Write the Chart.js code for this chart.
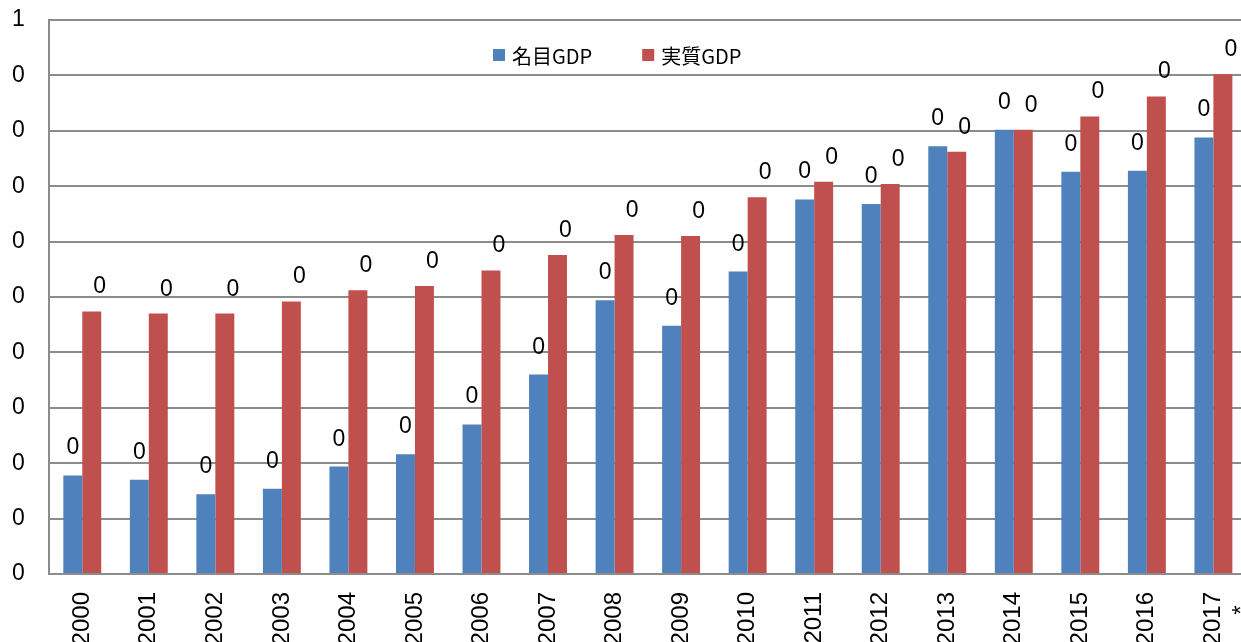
<!DOCTYPE html>
<html>
<head>
<meta charset="utf-8">
<script src="https://cdn.jsdelivr.net/npm/chart.js@4.4.0/dist/chart.umd.min.js"></script>
<style>
    html, body { margin: 0; padding: 0; background: #fff; overflow: hidden; }
    #wrap { width: 1289px; height: 642px; }
</style>
</head>
<body>
<div id="wrap"><canvas id="gdp-chart" width="1289" height="642"></canvas></div>
<script>
// Chart data
const years = ['2000', '2001', '2002', '2003', '2004', '2005', '2006', '2007', '2008',
               '2009', '2010', '2011', '2012', '2013', '2014', '2015', '2016', ['2017', '*  ']];
const nominalGdp = [0.089, 0.085, 0.072, 0.077, 0.097, 0.108, 0.135, 0.180, 0.247,
                    0.224, 0.273, 0.338, 0.334, 0.386, 0.401, 0.363, 0.364, 0.394];
const realGdp = [0.237, 0.235, 0.235, 0.246, 0.256, 0.260, 0.274, 0.288, 0.306,
                 0.305, 0.340, 0.354, 0.352, 0.381, 0.401, 0.413, 0.431, 0.451];
const seriesNames = ['名目GDP', '実質GDP'];
const yTicks = { min: 0, max: 0.5, step: 0.05 };

const fontFamily = '"Liberation Sans", Arial, sans-serif';

// value labels above each bar
const valueLabels = {
    id: 'valueLabels',
    afterDatasetsDraw(chart) {
        const ctx = chart.ctx;
        ctx.save();
        ctx.font = '23px ' + fontFamily;
        ctx.fillStyle = '#000';
        ctx.textAlign = 'center';
        ctx.textBaseline = 'alphabetic';
        chart.data.datasets.forEach((ds, i) => {
            const meta = chart.getDatasetMeta(i);
            meta.data.forEach((bar, j) => {
                const shift = i === 1 ? 8 : 0;
                const lift = i === 1 ? 18 : 21;
                ctx.fillText(String(Math.round(ds.data[j])), bar.x + shift, bar.y - lift);
            });
        });
        ctx.restore();
    }
};

// legend drawn inside the plot area
const innerLegend = {
    id: 'innerLegend',
    afterDraw(chart) {
        const ctx = chart.ctx;
        ctx.save();
        ctx.font = '20px "Noto Sans CJK JP", sans-serif';
        ctx.textBaseline = 'middle';
        ctx.textAlign = 'left';
        let x = 493;
        const y = 55;
        chart.data.datasets.forEach(ds => {
            ctx.fillStyle = ds.backgroundColor;
            ctx.fillRect(x, y - 6, 12, 12);
            ctx.fillStyle = '#000';
            ctx.fillText(ds.label, x + 19, y + 1);
            x += 19 + ctx.measureText(ds.label).width + 50;
        });
        ctx.restore();
    }
};

const ctx = document.getElementById('gdp-chart').getContext('2d');
new Chart(ctx, {
    type: 'bar',
    data: {
        labels: years,
        datasets: [{
            label: seriesNames[0],
            data: nominalGdp,
            backgroundColor: '#4F81BD',
            borderWidth: 0,
            barPercentage: 1,
            categoryPercentage: 0.57
        }, {
            label: seriesNames[1],
            data: realGdp,
            backgroundColor: '#C0504D',
            borderWidth: 0,
            barPercentage: 1,
            categoryPercentage: 0.57
        }]
    },
    options: {
        responsive: false,
        animation: false,
        devicePixelRatio: 1,
        layout: { padding: { top: 20, left: 12, right: 0, bottom: 0 } },
        plugins: {
            legend: { display: false },
            tooltip: { enabled: false }
        },
        scales: {
            x: {
                grid: { display: false, drawTicks: false },
                border: { display: true, color: '#8c8c8c', width: 2 },
                ticks: {
                    minRotation: 90,
                    maxRotation: 90,
                    padding: 18,
                    color: '#000',
                    font: { family: fontFamily, size: 24 }
                },
                afterFit: function(scale) { scale.height = 68; }
            },
            y: {
                min: yTicks.min,
                max: yTicks.max,
                grid: { color: '#8c8c8c', lineWidth: 2, drawTicks: false },
                border: { display: true, color: '#8c8c8c', width: 2 },
                ticks: {
                    stepSize: yTicks.step,
                    padding: 0,
                    crossAlign: 'far',
                    color: '#000',
                    font: { family: fontFamily, size: 23 },
                    callback: function(value) {
                        return String(Math.round(Math.round(value * 100) / 100));
                    }
                },
                afterFit: function(scale) { scale.width = 37; }
            }
        }
    },
    plugins: [valueLabels, innerLegend]
});
</script>
</body>
</html>
